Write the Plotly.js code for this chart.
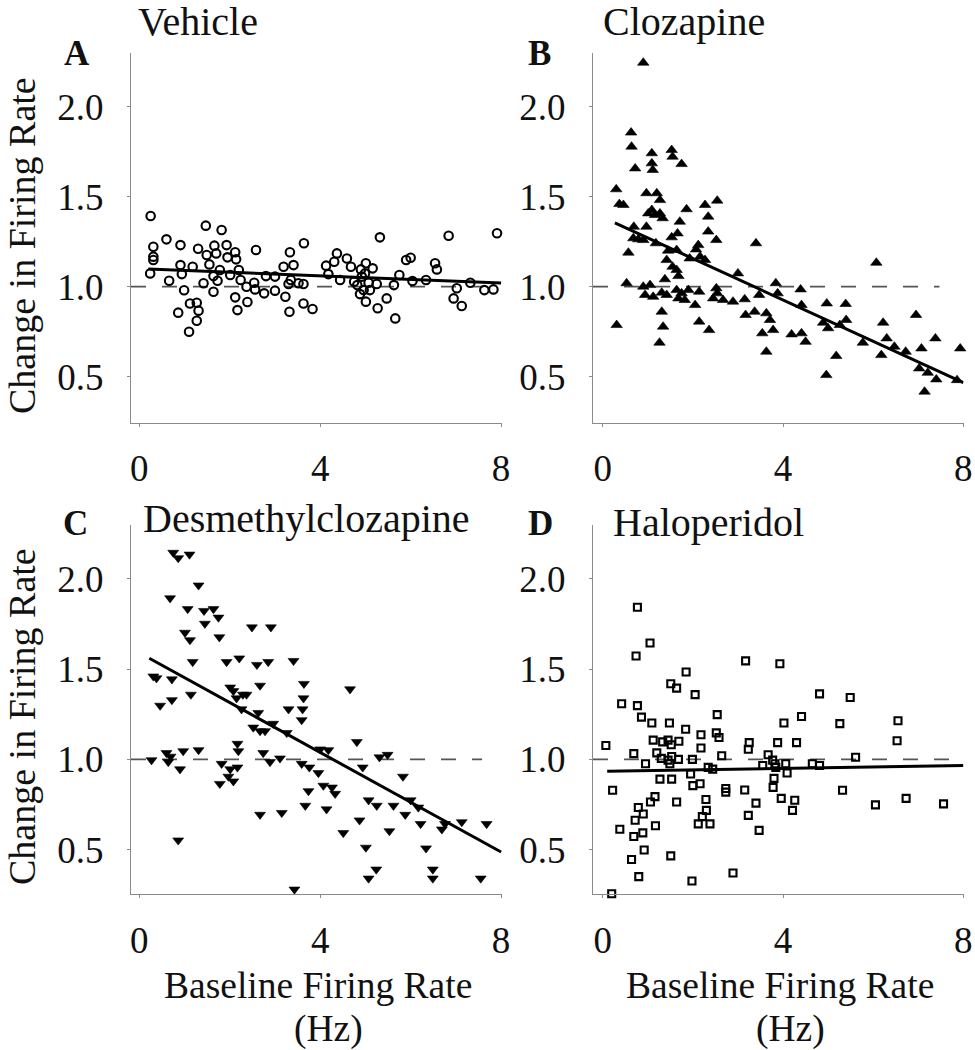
<!DOCTYPE html>
<html>
<head>
<meta charset="utf-8">
<script src="https://cdn.plot.ly/plotly-3.0.1.min.js"></script>
<style>html,body{margin:0;padding:0;background:#fff}#chart{width:975px;height:1050px}</style>
</head>
<body>
<div id="chart"></div>
<script>
// ---- Data ----
const panelTitles = ["Vehicle", "Clozapine", "Desmethylclozapine", "Haloperidol"];
const panelLetters = ["A", "B", "C", "D"];
const yAxisLabel = "Change in Firing Rate";
const xAxisLabel = "Baseline Firing Rate";
const xAxisUnit = "(Hz)";
const xTickVals = [0, 4, 8];
const yTickVals = [0.5, 1.0, 1.5, 2.0];
const yTickText = ["0.5", "1.0", "1.5", "2.0"];
const refValue = 1.0;

const vehX = [0.25,0.31,0.31,0.31,0.24,0.60,0.66,0.91,0.91,0.94,0.99,0.86,1.18,1.12,1.27,1.31,1.27,1.10,1.30,1.47,1.42,1.49,1.55,1.66,1.64,1.70,1.64,1.73,1.82,1.93,1.95,1.78,2.01,2.12,2.14,2.20,2.12,2.17,2.24,2.37,2.39,2.54,2.58,2.56,2.76,2.80,3.00,3.00,3.19,3.23,3.33,3.41,3.32,3.30,3.35,3.52,3.63,3.64,3.63,3.83,4.13,4.18,4.31,4.37,4.44,4.59,4.68,4.75,4.82,4.90,4.92,4.88,4.96,5.01,5.01,4.99,5.07,5.10,5.16,5.25,5.32,5.27,5.47,5.63,5.66,5.75,5.90,6.00,6.04,6.34,6.54,6.58,6.84,7.02,6.95,7.13,7.32,7.63,7.91,7.83];
const vehY = [1.393,1.222,1.167,1.148,1.074,1.263,1.033,1.231,1.12,1.07,0.98,0.856,1.111,0.907,0.911,0.867,0.811,0.75,1.211,1.339,1.019,1.176,1.124,1.228,1.059,1.185,0.972,1.033,1.315,1.231,1.163,1.093,1.065,1.191,1.152,1.093,0.941,0.870,1.037,1.0,0.915,1.022,1.204,0.985,0.963,1.059,0.978,1.056,1.111,0.944,1.191,1.12,0.861,1.015,1.037,1.019,1.015,1.241,0.907,0.876,1.117,1.07,1.139,1.185,1.037,1.157,1.111,1.028,1.009,1.096,1.056,0.959,0.981,0.917,1.13,1.074,1.022,0.981,1.102,1.015,1.274,0.880,0.935,1.009,0.824,1.065,1.148,1.161,1.031,1.037,1.13,1.096,1.283,0.991,0.935,0.893,1.022,0.981,1.297,0.985];

const cloX = [0.90,0.63,0.64,0.72,0.30,0.37,0.46,0.31,0.53,0.57,0.69,0.68,0.79,0.90,1.09,1.09,1.11,0.97,1.01,0.97,1.09,1.16,1.20,1.27,1.27,1.33,1.18,1.53,1.55,1.75,1.86,1.71,1.66,1.53,1.45,1.42,1.64,1.55,1.64,1.68,1.38,0.90,1.05,0.94,1.12,1.31,1.42,1.31,1.34,1.26,1.64,1.68,1.75,1.82,1.90,1.93,2.07,2.12,2.16,2.27,2.05,2.14,2.14,2.27,2.34,2.54,2.34,2.52,2.36,2.52,2.45,2.54,2.67,2.89,3.00,3.15,3.17,3.40,3.37,3.47,3.54,3.63,3.71,3.63,3.78,3.84,3.88,4.19,4.39,4.41,4.41,4.50,4.89,4.97,5.00,4.96,5.18,5.26,5.39,5.40,5.77,6.07,6.22,6.18,6.30,6.47,6.72,6.95,7.07,7.02,7.21,7.14,7.38,7.40,7.86,7.93];
const cloY = [2.244,1.856,1.778,1.657,1.541,1.459,1.454,0.787,1.019,1.189,1.333,1.269,1.263,1.259,1.741,1.685,1.648,1.519,1.407,1.333,1.426,1.398,1.519,1.481,1.407,1.380,1.241,1.759,1.722,1.681,1.430,1.361,1.296,1.274,1.2,1.148,1.204,1.111,1.093,1.059,1.041,1.0,1.009,0.954,0.944,0.967,0.954,0.861,0.778,0.689,0.981,0.935,0.963,0.926,0.981,1.157,1.207,1.231,1.167,1.148,0.898,0.972,0.806,1.454,1.389,1.478,1.306,1.259,0.759,0.991,0.935,0.963,0.926,0.917,1.074,0.930,0.843,1.241,0.861,0.954,0.741,0.852,0.815,0.639,0.759,1.019,0.963,0.735,0.985,0.898,0.741,0.694,0.8,0.907,0.769,0.509,0.615,0.787,0.904,0.815,0.689,1.133,0.8,0.620,0.713,0.667,0.639,0.843,0.657,0.546,0.522,0.417,0.713,0.485,0.481,0.657];

const desX = [0.75,0.86,1.11,1.31,0.68,1.07,1.43,1.64,1.45,1.75,1.01,1.12,1.77,2.49,2.91,1.18,1.93,2.21,2.60,2.85,3.41,0.31,0.38,0.72,0.46,0.72,1.14,2.01,2.08,2.15,2.29,2.37,2.26,2.67,3.64,3.63,3.61,3.59,3.30,4.66,2.63,2.52,2.67,2.78,2.96,3.26,2.17,2.19,0.27,0.60,0.69,0.97,1.31,0.64,0.90,2.74,2.89,3.11,1.82,2.01,2.17,1.78,1.97,2.08,3.59,3.76,3.96,4.00,4.18,3.74,4.07,4.26,4.33,3.67,4.14,2.67,3.15,0.86,3.43,4.51,4.81,4.94,5.31,5.49,5.07,5.25,4.87,5.01,5.07,5.24,5.62,5.53,5.83,5.88,6.00,6.17,6.22,6.34,6.49,6.49,6.69,6.76,7.13,7.55,7.68];
const desY = [2.145,2.115,2.135,1.964,1.893,1.833,1.823,1.833,1.752,1.786,1.702,1.661,1.677,1.732,1.732,1.540,1.540,1.560,1.524,1.540,1.546,1.460,1.450,1.444,1.298,1.329,1.359,1.399,1.379,1.339,1.359,1.359,1.278,1.409,1.419,1.339,1.278,1.218,1.278,1.389,1.258,1.177,1.157,1.157,1.198,1.147,1.087,1.046,0.996,1.036,1.016,1.046,1.052,0.986,0.946,1.036,0.986,1.006,0.976,0.946,0.956,0.865,0.905,0.879,0.976,0.956,0.925,1.056,1.052,0.825,0.855,0.845,0.810,0.744,0.724,0.694,0.704,0.552,0.280,0.593,1.097,0.956,1.012,1.026,0.774,0.744,0.663,0.512,0.341,0.391,0.744,0.603,0.905,0.694,0.774,0.734,0.643,0.508,0.391,0.341,0.613,0.643,0.653,0.341,0.643];

const halX = [0.07,0.22,0.20,0.42,0.38,0.77,0.74,1.05,0.77,0.86,1.09,0.69,0.95,0.79,0.90,0.72,0.89,0.69,1.06,1.16,1.17,0.92,0.64,0.80,1.12,1.20,1.33,1.45,1.48,1.51,1.64,1.85,2.05,1.69,1.52,1.30,1.45,1.53,1.68,1.27,1.53,1.49,1.64,1.51,1.84,1.99,1.95,2.00,2.16,2.18,2.18,1.98,2.29,2.30,2.21,2.12,2.38,2.34,2.44,2.52,2.58,2.54,2.64,2.73,2.73,2.89,3.15,3.17,3.25,3.23,3.40,3.23,3.47,3.55,3.67,3.77,3.82,3.84,3.80,3.78,3.88,3.93,3.96,4.06,4.09,4.02,4.26,4.21,4.30,4.41,4.65,4.81,4.81,5.26,5.32,5.49,5.61,6.05,6.55,6.53,6.73,7.56];
const halY = [1.077,0.829,0.256,1.308,0.613,1.843,1.573,1.645,1.298,1.234,1.202,1.032,0.976,0.734,0.698,0.663,0.593,0.573,0.764,0.794,0.633,0.498,0.446,0.351,1.107,1.036,1.097,1.107,1.202,1.419,1.395,1.484,1.359,1.101,1.081,1.006,0.996,1.016,1.0,0.891,0.891,0.976,0.764,0.466,1.167,1.0,0.919,0.855,0.865,1.137,1.063,0.327,0.778,0.718,0.683,0.643,0.643,0.956,0.946,1.147,1.121,1.248,1.020,0.839,0.819,0.371,0.831,1.546,1.093,1.056,0.758,0.690,0.607,0.966,1.026,0.996,0.976,0.956,0.895,0.845,1.093,1.530,0.784,0.976,0.925,1.202,0.774,0.718,1.093,1.238,0.976,0.966,1.363,1.198,0.829,1.343,1.012,0.748,1.214,1.103,0.784,0.754];

// regression lines (end points)
const vehFitX = [0.2, 8.0], vehFitY = [1.098, 1.020];
const cloFitX = [0.27, 8.0], cloFitY = [1.355, 0.467];
const desFitX = [0.22, 8.0], desFitY = [1.560, 0.487];
const halFitX = [0.1, 8.0], halFitY = [0.935, 0.966];
// where the dashed reference line stops on each panel
const refEnd = [7.6, 7.47, 7.58, 7.92];

// ---- Layout helpers ----
const W = 975, H = 1050;
const px = v => v / W;
const py = v => 1 - v / H;
const FONT = "Liberation Serif, 'Times New Roman', Times, serif";
const INK = "#111";
const AXC = "#8a8a8a";

const xRanges = [[-0.184, 8.02], [-0.215, 8.003], [-0.184, 8.02], [-0.215, 8.003]];
const yRanges = [[0.243, 2.298], [0.243, 2.298], [0.253, 2.296], [0.253, 2.296]];
const xDomains = [[131, 502], [593, 963.5], [131, 502], [593, 963.5]];
const yDomains = [[53, 423], [53, 423], [525.4, 894.3], [525.4, 894.3]];

const sets = [
  {x: vehX, y: vehY, fx: vehFitX, fy: vehFitY, marker: {symbol: "circle-open", size: 8.5, color: "#000", line: {width: 2.1, color: "#000"}}},
  {x: cloX, y: cloY, fx: cloFitX, fy: cloFitY, marker: {symbol: "triangle-up", size: 10, color: "#000", line: {width: 0.6, color: "#000"}}},
  {x: desX, y: desY, fx: desFitX, fy: desFitY, marker: {symbol: "triangle-down", size: 9.5, color: "#000", line: {width: 0.6, color: "#000"}}},
  {x: halX, y: halY, fx: halFitX, fy: halFitY, marker: {symbol: "square-open", size: 7, color: "#000", line: {width: 2.1, color: "#000"}}}
];

const traces = [];
const layout = {
  width: W, height: H,
  margin: {l: 0, r: 0, t: 0, b: 0},
  paper_bgcolor: "#fff", plot_bgcolor: "rgba(0,0,0,0)",
  showlegend: false,
  font: {family: FONT, color: INK, size: 37},
  annotations: []
};

sets.forEach((s, i) => {
  const n = i + 1;
  const xa = "x" + (n === 1 ? "" : n), ya = "y" + (n === 1 ? "" : n);
  traces.push({x: [xRanges[i][0], refEnd[i]], y: [refValue, refValue], xaxis: xa, yaxis: ya,
    mode: "lines", line: {color: "#555", width: 1.8, dash: "15px,16px"}, hoverinfo: "skip"});
  traces.push({x: s.x, y: s.y, xaxis: xa, yaxis: ya, mode: "markers", type: "scatter", marker: s.marker, cliponaxis: false});
  traces.push({x: s.fx, y: s.fy, xaxis: xa, yaxis: ya, mode: "lines", line: {color: "#000", width: 3}, cliponaxis: false});

  const axBase = {showgrid: false, zeroline: false, showline: true, linecolor: AXC, linewidth: 1,
    ticks: "outside", ticklen: 3, tickwidth: 1, tickcolor: AXC, tickfont: {family: FONT, size: 37, color: INK}};
  layout["xaxis" + (n === 1 ? "" : n)] = Object.assign({}, axBase, {
    anchor: ya, domain: [px(xDomains[i][0]), px(xDomains[i][1])], range: xRanges[i],
    tickmode: "array", tickvals: xTickVals, ticktext: xTickVals.map(String), ticklabelstandoff: 10});
  layout["yaxis" + (n === 1 ? "" : n)] = Object.assign({}, axBase, {
    anchor: xa, domain: [py(yDomains[i][1]), py(yDomains[i][0])], range: yRanges[i],
    tickmode: "array", tickvals: yTickVals, ticktext: yTickText, ticklabelstandoff: 16});
});

const ann = (text, x, y, opts) => Object.assign({text, x: px(x), y: py(y), xref: "paper", yref: "paper",
  showarrow: false, font: {family: FONT, size: 40, color: INK}, xanchor: "left", yanchor: "middle"}, opts || {});

// titles
layout.annotations.push(ann(panelTitles[0], 136, 21));
layout.annotations.push(ann(panelTitles[1], 601, 21));
layout.annotations.push(ann(panelTitles[2], 141, 518));
layout.annotations.push(ann(panelTitles[3], 611, 522));
// panel letters
const LF = {family: FONT, size: 35, color: INK, weight: "bold"};
layout.annotations.push(ann("<b>" + panelLetters[0] + "</b>", 62, 54, {font: LF}));
layout.annotations.push(ann("<b>" + panelLetters[1] + "</b>", 526, 54, {font: LF}));
layout.annotations.push(ann("<b>" + panelLetters[2] + "</b>", 61, 523, {font: LF}));
layout.annotations.push(ann("<b>" + panelLetters[3] + "</b>", 526, 523, {font: LF}));
// y axis labels
const YF = {family: FONT, size: 38, color: INK};
layout.annotations.push(ann(yAxisLabel, 22, 246, {font: YF, textangle: -90, xanchor: "center"}));
layout.annotations.push(ann(yAxisLabel, 22, 717, {font: YF, textangle: -90, xanchor: "center"}));
// x axis labels
const XF = {family: FONT, size: 37.5, color: INK};
layout.annotations.push(ann(xAxisLabel, 318, 985, {font: XF, xanchor: "center"}));
layout.annotations.push(ann(xAxisUnit, 328, 1029, {font: XF, xanchor: "center"}));
layout.annotations.push(ann(xAxisLabel, 780, 985, {font: XF, xanchor: "center"}));
layout.annotations.push(ann(xAxisUnit, 790, 1029, {font: XF, xanchor: "center"}));

Plotly.newPlot("chart", traces, layout, {staticPlot: true, displayModeBar: false});
</script>
</body>
</html>
